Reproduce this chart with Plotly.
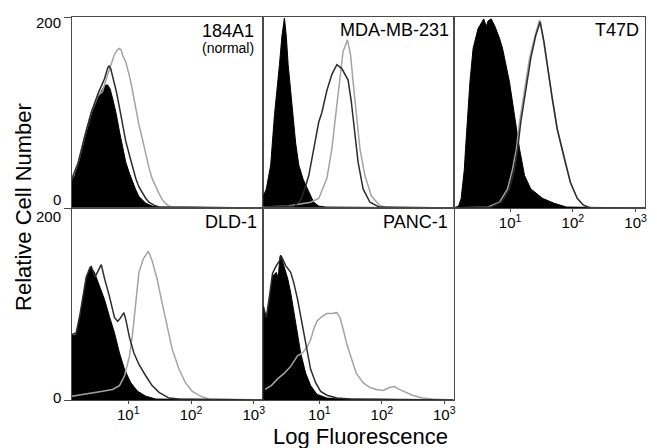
import plotly.graph_objects as go

# ---------------- data (x = log10 fluorescence, y = relative cell number) ----------------
# 184A1 (normal)
a184_ctrl_logx = [0.10, 0.15, 0.20, 0.26, 0.31, 0.36, 0.41, 0.46, 0.52, 0.57, 0.62, 0.67, 0.71, 0.75, 0.81, 0.86, 0.91, 0.96, 1.02, 1.07, 1.12, 1.17, 1.23, 1.28, 1.38, 1.49, 3.15]
a184_ctrl_count = [29, 34, 45, 59, 73, 87, 97, 106, 116, 122, 128, 129, 125, 115, 98, 80, 63, 48, 36, 27, 19, 12, 8, 5, 2, 1, 0]
a184_dark_logx = [0.10, 0.20, 0.31, 0.41, 0.52, 0.57, 0.62, 0.67, 0.69, 0.72, 0.75, 0.81, 0.86, 0.91, 0.96, 1.02, 1.07, 1.12, 1.17, 1.23, 1.28, 1.33, 1.41, 1.49, 3.15]
a184_dark_count = [30, 47, 76, 100, 120, 128, 135, 146, 149, 146, 138, 122, 105, 87, 70, 55, 42, 31, 22, 15, 10, 6, 3, 1, 0]
a184_light_logx = [0.10, 0.20, 0.31, 0.41, 0.52, 0.59, 0.65, 0.70, 0.75, 0.78, 0.83, 0.86, 0.89, 0.91, 0.96, 1.02, 1.07, 1.12, 1.17, 1.23, 1.28, 1.33, 1.38, 1.44, 1.49, 1.54, 1.59, 1.65, 1.70, 3.15]
a184_light_count = [30, 47, 76, 100, 118, 122, 135, 146, 157, 161, 166, 167, 165, 160, 153, 138, 122, 105, 87, 71, 55, 42, 31, 22, 15, 9, 5, 2, 1, 0]

# MDA-MB-231
mda_ctrl_logx = [0.10, 0.15, 0.22, 0.28, 0.36, 0.40, 0.44, 0.47, 0.50, 0.57, 0.62, 0.67, 0.74, 0.81, 0.86, 0.91, 0.99, 1.10, 3.15]
mda_ctrl_count = [12, 20, 45, 97, 150, 180, 199, 180, 150, 97, 68, 45, 30, 20, 12, 6, 2, 1, 0]
mda_dark_logx = [0.10, 0.60, 0.70, 0.75, 0.83, 0.91, 0.99, 1.04, 1.12, 1.20, 1.28, 1.36, 1.46, 1.51, 1.57, 1.62, 1.70, 1.81, 1.96, 3.15]
mda_dark_count = [1, 2, 8, 17, 34, 62, 90, 100, 123, 140, 150, 146, 134, 112, 80, 48, 20, 6, 1, 0]
mda_light_logx = [0.10, 0.50, 0.86, 0.99, 1.12, 1.20, 1.28, 1.33, 1.38, 1.45, 1.50, 1.54, 1.59, 1.65, 1.73, 1.83, 1.96, 2.07, 3.15]
mda_light_count = [1, 2, 6, 10, 31, 62, 108, 139, 164, 176, 160, 132, 97, 62, 34, 13, 3, 0, 0]

# T47D
t47_ctrl_logx = [0.10, 0.18, 0.22, 0.27, 0.29, 0.32, 0.36, 0.41, 0.49, 0.58, 0.62, 0.65, 0.70, 0.76, 0.83, 0.88, 0.99, 1.07, 1.15, 1.23, 1.33, 1.52, 1.70, 1.90, 3.15]
t47_ctrl_count = [0, 2, 10, 40, 62, 97, 132, 167, 188, 198, 190, 196, 198, 190, 178, 167, 132, 97, 62, 34, 20, 10, 5, 1, 0]
t47_dark_logx = [0.10, 0.70, 0.86, 0.99, 1.07, 1.12, 1.17, 1.25, 1.33, 1.41, 1.48, 1.54, 1.59, 1.67, 1.75, 1.86, 1.96, 2.07, 2.17, 2.28, 3.15]
t47_dark_count = [0, 1, 6, 20, 41, 62, 90, 125, 157, 181, 195, 174, 150, 115, 83, 52, 27, 10, 3, 0, 0]
t47_light_logx = [0.10, 0.65, 0.83, 0.96, 1.04, 1.10, 1.15, 1.23, 1.31, 1.40, 1.47, 1.53, 1.59, 1.67, 1.75, 1.86, 1.96, 2.07, 2.17, 2.28, 3.15]
t47_light_count = [0, 1, 6, 20, 41, 62, 90, 125, 157, 181, 197, 176, 150, 115, 83, 52, 27, 10, 3, 0, 0]

# DLD-1
dld_ctrl_logx = [0.10, 0.17, 0.23, 0.28, 0.33, 0.39, 0.41, 0.46, 0.54, 0.62, 0.70, 0.78, 0.86, 0.94, 1.04, 1.15, 1.28, 1.44, 3.15]
dld_ctrl_count = [67, 68, 87, 108, 126, 137, 138, 133, 119, 105, 87, 70, 49, 32, 18, 9, 4, 1, 0]
dld_dark_logx = [0.10, 0.17, 0.23, 0.28, 0.33, 0.39, 0.41, 0.47, 0.52, 0.57, 0.62, 0.70, 0.78, 0.83, 0.86, 0.91, 0.93, 0.96, 1.02, 1.09, 1.17, 1.28, 1.38, 1.49, 1.65, 1.81, 3.15]
dld_dark_count = [68, 70, 89, 110, 128, 138, 139, 128, 135, 141, 127, 108, 86, 82, 84, 90, 91, 84, 65, 49, 37, 25, 15, 8, 2, 1, 0]
dld_light_logx = [0.10, 0.33, 0.59, 0.75, 0.86, 0.94, 1.02, 1.07, 1.12, 1.17, 1.24, 1.32, 1.38, 1.46, 1.54, 1.62, 1.70, 1.81, 1.91, 2.02, 2.15, 2.28, 3.15]
dld_light_count = [4, 6, 9, 11, 15, 25, 46, 70, 105, 133, 147, 155, 145, 126, 101, 77, 53, 32, 18, 9, 4, 1, 0]

# PANC-1
panc_ctrl_logx = [0.10, 0.15, 0.20, 0.25, 0.31, 0.34, 0.37, 0.38, 0.43, 0.49, 0.54, 0.59, 0.65, 0.70, 0.78, 0.86, 0.96, 1.12, 1.33, 3.15]
panc_ctrl_count = [98, 84, 105, 129, 133, 127, 150, 151, 140, 127, 112, 91, 70, 49, 28, 15, 6, 2, 1, 0]
panc_dark_logx = [0.10, 0.15, 0.20, 0.25, 0.31, 0.36, 0.39, 0.46, 0.54, 0.59, 0.65, 0.70, 0.75, 0.81, 0.86, 0.94, 1.02, 1.12, 1.28, 1.49, 3.15]
panc_dark_count = [98, 86, 108, 132, 140, 145, 150, 140, 133, 122, 105, 87, 67, 49, 32, 18, 9, 5, 2, 1, 0]
panc_light_logx = [0.13, 0.23, 0.33, 0.44, 0.54, 0.65, 0.73, 0.81, 0.86, 0.91, 0.96, 1.04, 1.12, 1.20, 1.28, 1.33, 1.38, 1.44, 1.52, 1.59, 1.70, 1.81, 1.91, 2.02, 2.12, 2.20, 2.28, 2.38, 2.49, 2.65, 2.81, 3.15]
panc_light_count = [11, 15, 22, 28, 35, 46, 49, 56, 63, 74, 82, 87, 90, 90, 91, 86, 74, 58, 42, 28, 18, 13, 11, 10, 13, 14, 11, 8, 5, 2, 1, 0]

panel_names = ["184A1", "MDA-MB-231", "T47D", "DLD-1", "PANC-1"]
x_tick_vals = [10, 100, 1000]
x_tick_text = ["10<sup>1</sup>", "10<sup>2</sup>", "10<sup>3</sup>"]

panels = [
    (a184_ctrl_logx, a184_ctrl_count, a184_dark_logx, a184_dark_count, a184_light_logx, a184_light_count),
    (mda_ctrl_logx, mda_ctrl_count, mda_dark_logx, mda_dark_count, mda_light_logx, mda_light_count),
    (t47_ctrl_logx, t47_ctrl_count, t47_dark_logx, t47_dark_count, t47_light_logx, t47_light_count),
    (dld_ctrl_logx, dld_ctrl_count, dld_dark_logx, dld_dark_count, dld_light_logx, dld_light_count),
    (panc_ctrl_logx, panc_ctrl_count, panc_dark_logx, panc_dark_count, panc_light_logx, panc_light_count),
]

# ---------------- layout geometry ----------------
W, H = 657, 448
col_px = [72, 264, 455, 647]
row_px = [17, 208, 400]
def fx(p):
    return p / W
def fy(p):
    return 1 - p / H

FONT = "Liberation Sans, Arial, Helvetica, sans-serif"
BOX = "#4a4a4a"
DARK = "#2b2b2b"
LIGHT = "#a3a3a3"

fig = go.Figure()
layout = dict(
    width=W, height=H, margin=dict(l=0, r=0, t=0, b=0),
    paper_bgcolor="white", plot_bgcolor="white", showlegend=False,
    font=dict(family=FONT, color="black"),
)
annotations = []

positions = [(0, 0), (0, 1), (0, 2), (1, 0), (1, 1)]
for i, (data, (r, c)) in enumerate(zip(panels, positions)):
    n = i + 1
    xa = "x" if n == 1 else f"x{n}"
    ya = "y" if n == 1 else f"y{n}"
    cx, cy, dx, dy, lx, ly = data
    fig.add_trace(go.Scatter(x=[10 ** v for v in cx], y=cy, mode="lines", fill="tozeroy",
                             fillcolor="black", line=dict(color="black", width=1),
                             xaxis=xa, yaxis=ya, hoverinfo="skip"))
    fig.add_trace(go.Scatter(x=[10 ** v for v in lx], y=ly, mode="lines",
                             line=dict(color=LIGHT, width=1.5), xaxis=xa, yaxis=ya, hoverinfo="skip"))
    fig.add_trace(go.Scatter(x=[10 ** v for v in dx], y=dy, mode="lines",
                             line=dict(color=DARK, width=1.5), xaxis=xa, yaxis=ya, hoverinfo="skip"))

    bottom = (r == 1) or (n == 3)
    xkey = "xaxis" if n == 1 else f"xaxis{n}"
    ykey = "yaxis" if n == 1 else f"yaxis{n}"
    layout[xkey] = dict(
        type="log", range=[0.1, 3.15], domain=[fx(col_px[c]), fx(col_px[c + 1])],
        anchor=ya, showline=True, mirror=True, linecolor=BOX, linewidth=1,
        showgrid=False, zeroline=False,
        ticks="outside" if bottom else "", ticklen=3, tickcolor=BOX,
        tickvals=x_tick_vals, ticktext=x_tick_text, showticklabels=bottom,
        ticklabelstandoff=-2,
        tickfont=dict(size=15, color="black", family=FONT),
    )
    layout[ykey] = dict(
        range=[0, 200], domain=[fy(row_px[r + 1]), fy(row_px[r])],
        anchor=xa, showline=True, mirror=True, linecolor=BOX, linewidth=1,
        showgrid=False, zeroline=False,
        ticks="outside" if c == 0 else "", ticklen=7, tickcolor=BOX,
        tickvals=[0, 200], showticklabels=False,
    )

# y tick labels (placed like the original, nudged inside the panel)
for yv_px, txt in [(23, "200"), (199, "0"), (216.5, "200"), (397, "0")]:
    annotations.append(dict(text=txt, x=fx(63), y=fy(yv_px), xref="paper", yref="paper",
                            xanchor="right", yanchor="middle", showarrow=False,
                            font=dict(size=15, family=FONT, color="black")))

# panel titles
title_pos = [(257, 31), (452, 30), (643, 30), (260, 222), (451, 222)]
for name, (tx, ty) in zip(panel_names, title_pos):
    annotations.append(dict(text=name, x=fx(tx), y=fy(ty), xref="paper", yref="paper",
                            xanchor="right", yanchor="middle", showarrow=False,
                            font=dict(size=18, family=FONT, color="black")))
annotations.append(dict(text="(normal)", x=fx(257), y=fy(48), xref="paper", yref="paper",
                        xanchor="right", yanchor="middle", showarrow=False,
                        font=dict(size=14, family=FONT, color="black")))

# axis titles
annotations.append(dict(text="Relative Cell Number", x=fx(23), y=fy(207), xref="paper", yref="paper",
                        xanchor="center", yanchor="middle", textangle=-90, showarrow=False,
                        font=dict(size=22, family=FONT, color="black")))
annotations.append(dict(text="Log Fluorescence", x=fx(362), y=fy(436), xref="paper", yref="paper",
                        xanchor="center", yanchor="middle", showarrow=False,
                        font=dict(size=22, family=FONT, color="black")))

layout["annotations"] = annotations
fig.update_layout(**layout)
fig.write_html("out.html", config={"displayModeBar": False},
               post_script="document.body.style.margin='0';document.body.style.overflow='hidden';")
